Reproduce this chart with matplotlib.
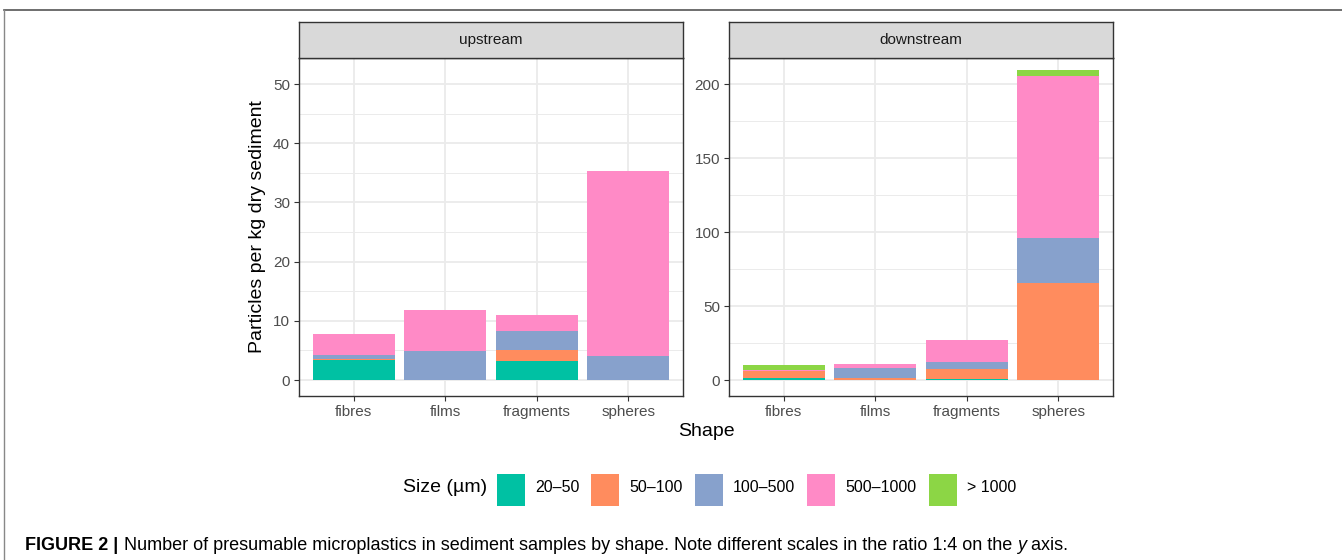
import numpy as np
import matplotlib.pyplot as plt
from matplotlib.patches import Rectangle
from matplotlib.lines import Line2D

plt.rcParams['font.family'] = ['Liberation Sans', 'DejaVu Sans']

shapes = ["fibres", "films", "fragments", "spheres"]
sizes = ["20–50", "50–100", "100–500", "500–1000", "> 1000"]
colors = ["#00C1A3", "#FF8C5E", "#87A1CC", "#FF8AC6", "#8CD645"]

# particles per kg, rows = size class, cols = shape
upstream = np.array([
    [3.4, 0.0, 3.2, 0.0],
    [0.1, 0.0, 1.9, 0.0],
    [0.7, 4.9, 3.2, 4.1],
    [3.5, 6.9, 2.7, 31.2],
    [0.0, 0.0, 0.0, 0.0],
])
downstream = np.array([
    [1.1, 0.0, 0.7, 0.0],
    [5.0, 1.1, 6.5, 65.8],
    [0.0, 6.8, 4.8, 29.9],
    [0.8, 2.7, 14.8, 109.5],
    [3.0, 0.0, 0.0, 4.0],
])
panels = ["upstream", "downstream"]
ylims = [(-2.7, 54.4), (-10.8, 217.6)]
yticks = [np.arange(0, 51, 10), np.arange(0, 201, 50)]
yminor = [np.arange(5, 51, 10), np.arange(25, 201, 50)]

W, H = 1342, 560
fig = plt.figure(figsize=(W / 100, H / 100), dpi=100)

def fx(px):
    return px / W

def fy(py):
    return 1 - py / H

grid_col = "#EBEBEB"
dark = "#333333"
tick_col = "#4D4D4D"

panel_x = [299, 729]
panel_w = 384
top, bottom = 58, 396
strip_top = 22

for i, data in enumerate([upstream, downstream]):
    ax = fig.add_axes([fx(panel_x[i]), fy(bottom), fx(panel_w), (bottom - top) / H])
    x = np.arange(1, len(shapes) + 1)
    base = np.zeros(len(shapes))
    for k in range(len(sizes)):
        ax.bar(x, data[k], width=0.9, bottom=base, color=colors[k], zorder=3, linewidth=0)
        base += data[k]
    ax.set_xlim(0.4, 4.6)
    ax.set_ylim(*ylims[i])
    ax.set_xticks(x)
    ax.set_xticklabels(shapes)
    ax.set_yticks(yticks[i])
    for v in yticks[i]:
        ax.axhline(v, color=grid_col, lw=1.3, zorder=1)
    for v in yminor[i]:
        ax.axhline(v, color=grid_col, lw=0.7, zorder=1)
    for v in x:
        ax.axvline(v, color=grid_col, lw=1.3, zorder=1)
    ax.tick_params(axis="both", colors=dark, labelcolor=tick_col, labelsize=11,
                   length=3.5, width=0.8, pad=3)
    for s in ax.spines.values():
        s.set_color(dark)
        s.set_linewidth(1.0)
        s.set_zorder(5)

    strip = fig.add_axes([fx(panel_x[i]), fy(top), fx(panel_w), (top - strip_top) / H])
    strip.set_facecolor("#D9D9D9")
    strip.set_xticks([])
    strip.set_yticks([])
    for s in strip.spines.values():
        s.set_color(dark)
        s.set_linewidth(1.0)
    strip.text(0.5, 0.5, panels[i], ha="center", va="center", fontsize=11, color="#1A1A1A",
               transform=strip.transAxes)

fig.text(fx(706), fy(432), "Shape", ha="center", va="center", fontsize=14)
fig.text(fx(258), fy(227), "Particles per kg dry sediment", ha="center", va="center",
         fontsize=14, rotation=90)

# legend along the bottom
fig.text(fx(403), fy(487), "Size (µm)", ha="left", va="center", fontsize=14)
key_x = [497, 591, 695, 807, 929]
for kx, c, lab in zip(key_x, colors, sizes):
    fig.patches.append(Rectangle((fx(kx), fy(506)), fx(28), 32 / H, transform=fig.transFigure,
                                 facecolor=c, edgecolor="none"))
    fig.text(fx(kx + 38), fy(488), lab, ha="left", va="center", fontsize=11.5)

# frame around the figure block
fig.add_artist(Line2D([fx(4), 1], [fy(10), fy(10)], transform=fig.transFigure,
                      color="#555555", lw=1.2))
fig.add_artist(Line2D([fx(4), fx(4)], [fy(10), 0], transform=fig.transFigure,
                      color="#888888", lw=1.0))

# caption, written piece by piece so the italic y sits inline
renderer = fig.canvas.get_renderer()
pieces = [
    ("FIGURE 2 |", "bold", "normal", 0),
    ("Number of presumable microplastics in sediment samples by shape. "
     "Note different scales in the ratio 1:4 on the ", "normal", "normal", 6),
    ("y", "normal", "italic", 0),
    (" axis.", "normal", "normal", 0),
]
cx = 25
for txt, weight, style, gap in pieces:
    cx += gap
    t = fig.text(fx(cx), fy(545), txt, ha="left", va="center", fontsize=13,
                 fontweight=weight, fontstyle=style)
    cx += t.get_window_extent(renderer).width

fig.savefig("out.png", dpi=100)
